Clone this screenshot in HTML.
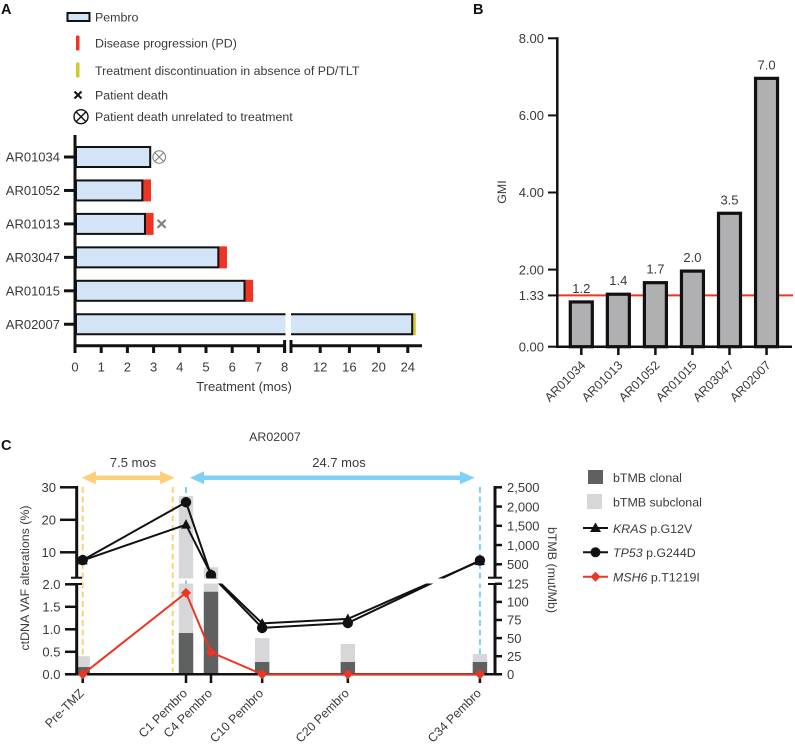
<!DOCTYPE html>
<html lang="en">
<head>
<meta charset="utf-8">
<title>Pembro treatment, GMI and ctDNA figure</title>
<style>
html,body{margin:0;padding:0;background:#fff;}
svg{display:block;}
text{font-family:"Liberation Sans",Arial,sans-serif;font-size:13px;fill:#3a3a3c;}
.panel{font-weight:bold;font-size:14.5px;fill:#111;}
.leg{font-size:12.4px;}
</style>
</head>
<body>
<svg id="fig" xmlns="http://www.w3.org/2000/svg" width="795" height="747" viewBox="0 0 795 747">
  <rect x="0" y="0" width="795" height="747" fill="#fff"/>
  <text class="panel" x="1" y="14">A</text>
  <text class="panel" x="473" y="14">B</text>
  <text class="panel" x="1" y="450">C</text>

  <g>
    <rect x="67.5" y="13" width="22" height="8" fill="#d2e4f5" stroke="#111" stroke-width="2"/>
    <text class="leg" x="95" y="21.5">Pembro</text>
    <rect x="76" y="35.5" width="3.5" height="15" rx="1" fill="#ee3524"/>
    <text class="leg" x="95" y="47.5">Disease progression (PD)</text>
    <rect x="76" y="62.5" width="3.5" height="15" rx="1" fill="#cfca2e"/>
    <text class="leg" x="95" y="75">Treatment discontinuation in absence of PD/TLT</text>
    <path d="M74.5 91.5L81.5 98.5M81.5 91.5L74.5 98.5" stroke="#111" stroke-width="2" fill="none"/>
    <text class="leg" x="95" y="99.5">Patient death</text>
    <g fill="none" stroke="#111" stroke-width="1.4">
      <circle cx="81" cy="116.7" r="7"/>
      <path d="M76 111.7L86 121.7M86 111.7L76 121.7"/>
    </g>
    <text class="leg" x="95" y="121">Patient death unrelated to treatment</text>
  </g>
  <g id="panelA"></g>
  <text x="244" y="391" text-anchor="middle">Treatment (mos)</text>

  <g id="panelB"></g>
  <text class="leg" transform="translate(506,192) rotate(-90)" text-anchor="middle">GMI</text>

  <text class="leg" x="275" y="441" text-anchor="middle">AR02007</text>
  <text x="133" y="467" text-anchor="middle">7.5 mos</text>
  <text x="339" y="467" text-anchor="middle">24.7 mos</text>
  <path fill="#fdd17a" d="M81.7 477.7L96 471.2V475.5H160V471.2L174.7 477.7L160 484.2V480H96V484.2Z"/>
  <path fill="#7fd0f5" d="M190 477.7L204 471.2V475.5H460V471.2L474.7 477.7L460 484.2V480H204V484.2Z"/>
  <g id="panelC"></g>
  <text class="leg" transform="translate(29,578) rotate(-90)" text-anchor="middle">ctDNA VAF alterations (%)</text>
  <text class="leg" transform="translate(548,570) rotate(90)" text-anchor="middle">bTMB (mut/Mb)</text>

  <g>
    <rect x="588" y="470" width="15" height="14" fill="#5f6060"/>
    <text class="leg" x="613" y="482">bTMB clonal</text>
    <rect x="587" y="494" width="15" height="15" fill="#d7d7d9"/>
    <text class="leg" x="613" y="506.5">bTMB subclonal</text>
    <path d="M583 528H608" stroke="#111" stroke-width="2"/>
    <path d="M595.5 522.5L601 532H590Z" fill="#111"/>
    <text class="leg" x="613" y="533"><tspan font-style="italic">KRAS</tspan> p.G12V</text>
    <path d="M583 552.3H608" stroke="#111" stroke-width="2"/>
    <circle cx="595.5" cy="552.3" r="5" fill="#111"/>
    <text class="leg" x="613" y="557"><tspan font-style="italic">TP53</tspan> p.G244D</text>
    <path d="M583 576.7H608" stroke="#ee3524" stroke-width="2"/>
    <path d="M595.5 571.7L600.5 576.7L595.5 581.7L590.5 576.7Z" fill="#ee3524"/>
    <text class="leg" x="613" y="581.5"><tspan font-style="italic">MSH6</tspan> p.T1219I</text>
  </g>
</svg>
<script>
// Panel A data
const patientsA = ["AR01034","AR01052","AR01013","AR03047","AR01015","AR02007"];
const treatmentMonths = [2.87,2.57,2.67,5.47,6.47,24.6];
const progressionEnd = [null,2.9,3.0,5.8,6.8,null];
const discontinuationEnd = [null,null,null,null,null,25.1];
const ticksAShort = [0,1,2,3,4,5,6,7,8];
const ticksALong = [12,16,20,24];
// Panel B data
const patientsB = ["AR01034","AR01013","AR01052","AR01015","AR03047","AR02007"];
const gmiValues = [1.2,1.4,1.7,2.0,3.5,7.0];
const gmiTicks = [0,1.33,2,4,6,8];
const gmiThreshold = 1.33;
// Panel C data
const timepoints = ["Pre-TMZ","C1 Pembro","C4 Pembro","C10 Pembro","C20 Pembro","C34 Pembro"];
const timepointMonths = [-8.68,0,2.1,6.4,13.6,24.7];
const krasVaf = [7.5,18.5,3.3,1.13,1.23,7.3];
const tp53Vaf = [7.6,25.4,3.0,1.03,1.14,7.5];
const msh6Vaf = [0,1.81,0.49,0,0,0];
const tmbClonal = [10,57,114,17,17,17];
const tmbTotal = [25,2274,422,50,42,28];
const vafTicksUpper = [10,20,30];
const vafTicksLower = [0,0.5,1,1.5,2];
const tmbTicksUpper = [500,1000,1500,2000,2500];
const tmbTicksLower = [0,25,50,75,100,125];

const NS = "http://www.w3.org/2000/svg";
function mk(tag, parent, props){
  const el = document.createElementNS(NS, tag);
  for(const k in props){ el.setAttribute(k, props[k]); }
  parent.appendChild(el);
  return el;
}
function fmt(n){ return String(n).replace(/\B(?=(\d{3})+$)/g, ","); }

// Axis functions
function xA(m){ return m <= 8 ? 75 + 26.2*m : 291 + 7.3*(m-8); }
function rowA(i){ return 157 + 33.45*i; }
function xB(i){ return 581.3 + 37.05*i; }
function yB(v){ return 346.7 - 38.55*v; }
function xC(m){ return 186 + 11.9*m; }
function yVaf(v){ return v <= 2 ? 674.3 - 45*v : 552.3 + (10-v)*3.25; }
function yTmb(v){ return v <= 125 ? 674.3 - 0.724*v : 564.3 - (v-500)*0.0385; }

/* ---------- Panel A ---------- */
const gA = document.getElementById("panelA");
patientsA.forEach(function(name,i){
  const cy = rowA(i), h = 20;
  if(progressionEnd[i] !== null){
    const pd = mk("rect", gA, {x:xA(treatmentMonths[i]), y:cy-h/2-1, width:xA(progressionEnd[i])-xA(treatmentMonths[i]), height:h+2, fill:"#ee3524"});
    
    
  }
  if(discontinuationEnd[i] !== null){
    const dc = mk("rect", gA, {x:xA(treatmentMonths[i]), y:cy-h/2-1, width:xA(discontinuationEnd[i])-xA(treatmentMonths[i]), height:h+2, fill:"#cfca2e"});
    
    
  }
  const bar = mk("rect", gA, {x:76, y:cy-h/2, width:xA(treatmentMonths[i])-76, height:h, fill:"#d2e4f5", stroke:"#111", "stroke-width":2});
  
  
  const tick = mk("line", gA, {x1:64, x2:75, y1:cy, y2:cy, stroke:"#111", "stroke-width":3});
  
  
  const lab = mk("text", gA, {x:60, y:cy+4.7, "text-anchor":"end"});
  lab.textContent = name;
  
  
});
const gapA = mk("rect", gA, {x:285.5, y:rowA(5)-13, width:5.5, height:26, fill:"#fff"});



const unrelated = mk("g", gA, {fill:"none", stroke:"#777", "stroke-width":1});


const ucx = xA(treatmentMonths[0]) + 9, ucy = rowA(0);
mk("circle", unrelated, {cx:ucx, cy:ucy, r:6.3});
mk("path", unrelated, {d:"M"+(ucx-4.5)+" "+(ucy-4.5)+"L"+(ucx+4.5)+" "+(ucy+4.5)+"M"+(ucx+4.5)+" "+(ucy-4.5)+"L"+(ucx-4.5)+" "+(ucy+4.5)});
const dcx = xA(progressionEnd[2]) + 8, dcy = rowA(2);
const death = mk("path", gA, {d:"M"+(dcx-4)+" "+(dcy-4)+"L"+(dcx+4)+" "+(dcy+4)+"M"+(dcx+4)+" "+(dcy-4)+"L"+(dcx-4)+" "+(dcy+4), stroke:"#808082", "stroke-width":2.2, fill:"none"});



const yAxisA = mk("line", gA, {x1:75, x2:75, y1:135, y2:353, stroke:"#111", "stroke-width":3});


const xAxisA1 = mk("line", gA, {x1:75, x2:xA(8), y1:345.7, y2:345.7, stroke:"#111", "stroke-width":3});


const xAxisA2 = mk("line", gA, {x1:291, x2:422, y1:345.7, y2:345.7, stroke:"#111", "stroke-width":3});


const brk = mk("line", gA, {x1:291, x2:291, y1:340, y2:353, stroke:"#111", "stroke-width":3});


const brk2 = mk("line", gA, {x1:xA(8), x2:xA(8), y1:340, y2:353, stroke:"#111", "stroke-width":3});


ticksAShort.concat(ticksALong).forEach(function(t){
  const tk = mk("line", gA, {x1:xA(t), x2:xA(t), y1:345.7, y2:353, stroke:"#111", "stroke-width":3});
  
  
  const tl = mk("text", gA, {x:xA(t), y:371.5, "text-anchor":"middle"});
  tl.textContent = t;
  
  
});

/* ---------- Panel B ---------- */
const gB = document.getElementById("panelB");
const refLine = mk("line", gB, {x1:557, x2:793, y1:yB(gmiThreshold), y2:yB(gmiThreshold), stroke:"#ee3524", "stroke-width":2});


patientsB.forEach(function(name,i){
  const bw = 22, top = yB(gmiValues[i]);
  const b = mk("rect", gB, {x:xB(i)-bw/2, y:top+1.5, width:bw, height:346.7-top-1.5, fill:"#b0b0b3", stroke:"#111", "stroke-width":3.2});
  
  
  const v = mk("text", gB, {x:xB(i), y:top-7.5, "text-anchor":"middle"});
  v.textContent = gmiValues[i].toFixed(1);
  
  
  const tk = mk("line", gB, {x1:xB(i), x2:xB(i), y1:346.7, y2:355, stroke:"#111", "stroke-width":2.5});
  
  
  const l = mk("text", gB, {class:"leg", transform:"translate("+(xB(i)+5)+",366) rotate(-45)", "text-anchor":"end"});
  l.textContent = name;
  
  
});
const yAxisB = mk("line", gB, {x1:557.3, x2:557.3, y1:yB(8)-1, y2:348, stroke:"#111", "stroke-width":2.5});


const xAxisB = mk("line", gB, {x1:557, x2:792, y1:346.7, y2:346.7, stroke:"#111", "stroke-width":2.5});


gmiTicks.forEach(function(t){
  const tk = mk("line", gB, {x1:548, x2:557, y1:yB(t), y2:yB(t), stroke:"#111", "stroke-width":2});
  
  
  const tl = mk("text", gB, {x:544, y:yB(t)+4.7, "text-anchor":"end"});
  tl.textContent = t.toFixed(2);
  
  
});

/* ---------- Panel C ---------- */
const gC = document.getElementById("panelC");
const blue1 = mk("line", gC, {x1:xC(timepointMonths[1]), x2:xC(timepointMonths[1]), y1:487, y2:596, stroke:"#7fd0f5", "stroke-width":2, "stroke-dasharray":"6 3.5"});


const blue2 = mk("line", gC, {x1:xC(timepointMonths[5]), x2:xC(timepointMonths[5]), y1:487, y2:656, stroke:"#7fd0f5", "stroke-width":2, "stroke-dasharray":"6 3.5"});


const yel1 = mk("line", gC, {x1:xC(timepointMonths[0]), x2:xC(timepointMonths[0]), y1:487, y2:672, stroke:"#fdd17a", "stroke-width":2, "stroke-dasharray":"6 3.5"});


const yel2 = mk("line", gC, {x1:172.7, x2:172.7, y1:487, y2:672, stroke:"#fdd17a", "stroke-width":2, "stroke-dasharray":"6 3.5"});


timepoints.forEach(function(name,i){
  const bw = 14.4, cx = xC(timepointMonths[i]);
  const sub = mk("rect", gC, {x:cx-bw/2, y:yTmb(tmbTotal[i]), width:bw, height:674.3-yTmb(tmbTotal[i]), fill:"#d7d7d9"});
  
  
  const cl = mk("rect", gC, {x:cx-bw/2, y:yTmb(tmbClonal[i]), width:bw, height:674.3-yTmb(tmbClonal[i]), fill:"#5f6060"});
  
  
});

function linePoints(values){
  return values.map(function(v,i){ return xC(timepointMonths[i]).toFixed(1)+","+yVaf(v).toFixed(1); }).join(" ");
}
const krasLine = mk("polyline", gC, {points:linePoints(krasVaf), fill:"none", stroke:"#111", "stroke-width":2});


const tp53Line = mk("polyline", gC, {points:linePoints(tp53Vaf), fill:"none", stroke:"#111", "stroke-width":2});


krasVaf.forEach(function(v,i){
  const cx = xC(timepointMonths[i]), cy = yVaf(v);
  const m = mk("path", gC, {d:"M"+cx+" "+(cy-5.5)+"L"+(cx+5)+" "+(cy+4)+"L"+(cx-5)+" "+(cy+4)+"Z", fill:"#111"});
  
  
});
tp53Vaf.forEach(function(v,i){
  const m = mk("circle", gC, {cx:xC(timepointMonths[i]), cy:yVaf(v), r:5.2, fill:"#111"});
  
  
});
const band = mk("rect", gC, {x:174.5, y:578.5, width:319, height:5, fill:"#fff"});


const blueGap = mk("rect", gC, {x:xC(timepointMonths[1])-1, y:580.5, width:2, height:3.5, fill:"#7fd0f5"});



// Axes
const axisLeftUp = mk("line", gC, {x1:76.7, x2:76.7, y1:486, y2:577.7, stroke:"#111", "stroke-width":3});


const axisLeftLow = mk("line", gC, {x1:76.7, x2:76.7, y1:584, y2:675.5, stroke:"#111", "stroke-width":3});


const axisRightUp = mk("line", gC, {x1:495, x2:495, y1:486, y2:577.7, stroke:"#111", "stroke-width":3});


const axisRightLow = mk("line", gC, {x1:495, x2:495, y1:584, y2:675.5, stroke:"#111", "stroke-width":3});


const axisBottom = mk("line", gC, {x1:65, x2:502, y1:674.3, y2:674.3, stroke:"#111", "stroke-width":2.5});


const brkL1 = mk("line", gC, {x1:71, x2:82, y1:577.7, y2:577.7, stroke:"#111", "stroke-width":2});


const brkL2 = mk("line", gC, {x1:71, x2:82, y1:584, y2:584, stroke:"#111", "stroke-width":2});


const brkR1 = mk("line", gC, {x1:488, x2:502, y1:577.7, y2:577.7, stroke:"#111", "stroke-width":2});


const brkR2 = mk("line", gC, {x1:488, x2:502, y1:584, y2:584, stroke:"#111", "stroke-width":2});



vafTicksUpper.forEach(function(t){
  const tk = mk("line", gC, {x1:60, x2:76, y1:yVaf(t), y2:yVaf(t), stroke:"#111", "stroke-width":2.5});
  
  
  const tl = mk("text", gC, {x:56, y:yVaf(t)+4.7, "text-anchor":"end"});
  tl.textContent = t;
  
  
});
vafTicksLower.forEach(function(t){
  const tk = mk("line", gC, {x1:65, x2:76, y1:yVaf(t), y2:yVaf(t), stroke:"#111", "stroke-width":2.5});
  
  
  const tl = mk("text", gC, {x:60.5, y:yVaf(t)+4.7, "text-anchor":"end"});
  tl.textContent = t.toFixed(1);
  
  
});
tmbTicksUpper.concat(tmbTicksLower).forEach(function(t){
  const tk = mk("line", gC, {x1:495, x2:502, y1:yTmb(t), y2:yTmb(t), stroke:"#111", "stroke-width":2.5});
  
  
  const tl = mk("text", gC, {x:507, y:yTmb(t)+4.7});
  tl.textContent = fmt(t);
  
  
});
timepoints.forEach(function(name,i){
  const cx = xC(timepointMonths[i]);
  const tk = mk("line", gC, {x1:cx, x2:cx, y1:674.3, y2:683, stroke:"#111", "stroke-width":2.5});
  
  
  const tl = mk("text", gC, {class:"leg", transform:"translate("+(cx+2)+",694) rotate(-45)", "text-anchor":"end"});
  tl.textContent = name;
  
  
});

// MSH6 is drawn over the axis, as in the reference
const msh6Line = mk("polyline", gC, {points:linePoints(msh6Vaf), fill:"none", stroke:"#ee3524", "stroke-width":2});


msh6Vaf.forEach(function(v,i){
  const cx = xC(timepointMonths[i]), cy = yVaf(v);
  const m = mk("path", gC, {d:"M"+cx+" "+(cy-5)+"L"+(cx+5)+" "+cy+"L"+cx+" "+(cy+5)+"L"+(cx-5)+" "+cy+"Z", fill:"#ee3524"});
  
  
});
</script>
</body>
</html>
